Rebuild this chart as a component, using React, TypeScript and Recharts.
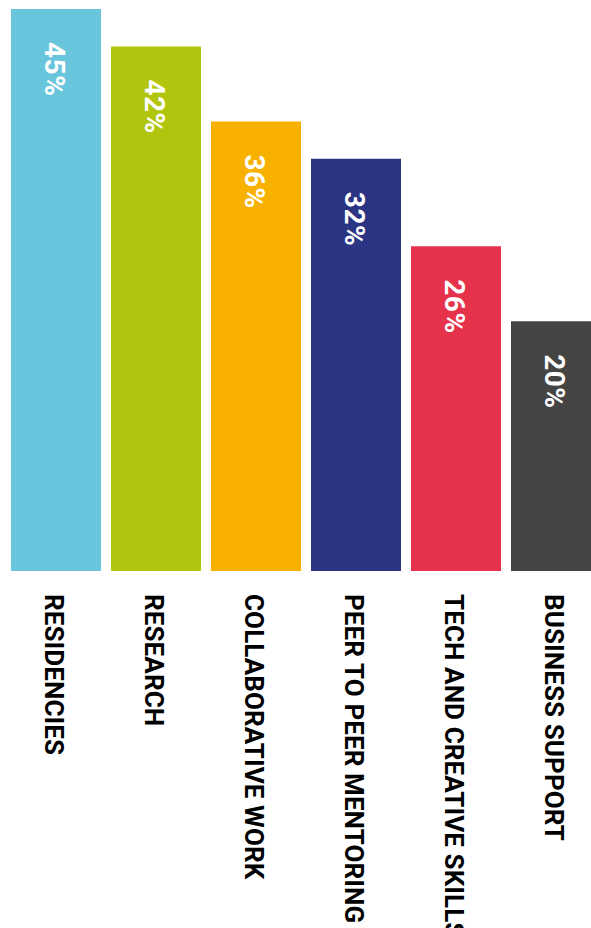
import { BarChart, Bar, XAxis, YAxis, Cell, LabelList } from "recharts";

const categories = [
  "RESIDENCIES",
  "RESEARCH",
  "COLLABORATIVE WORK",
  "PEER TO PEER MENTORING",
  "TECH AND CREATIVE SKILLS",
  "BUSINESS SUPPORT",
];
// bar heights as drawn in the picture
const values = [45, 42, 36, 33, 26, 20];
// printed value labels
const valueLabels = ["45%", "42%", "36%", "32%", "26%", "20%"];
const colors = ["#69C5DB", "#B2C50E", "#F8B100", "#2C3583", "#E6324B", "#444443"];

const data = categories.map((name, i) => ({ name, value: values[i] }));

const FONT = "Roboto, 'DejaVu Sans', sans-serif";

// eslint-disable-next-line @typescript-eslint/no-explicit-any
function CategoryTick(props: any) {
  const { x, y, payload } = props;
  const tx = x - 11;
  const ty = y + 23;
  return (
    <text
      x={tx}
      y={ty}
      transform={`rotate(90, ${tx}, ${ty})`}
      textAnchor="start"
      fill="#000"
      fontFamily={FONT}
      fontWeight={700}
      fontSize={26}
      letterSpacing={0.1}
    >
      {payload.value}
    </text>
  );
}

// eslint-disable-next-line @typescript-eslint/no-explicit-any
function ValueLabel(props: any) {
  const { x, y, width, index } = props;
  const tx = x + width / 2 - 11;
  const ty = y + 33;
  return (
    <text
      x={tx}
      y={ty}
      transform={`rotate(90, ${tx}, ${ty})`}
      textAnchor="start"
      fill="#fff"
      fontFamily={FONT}
      fontWeight={700}
      fontSize={28}
      letterSpacing={0.5}
    >
      {valueLabels[index]}
    </text>
  );
}

export default function App() {
  return (
    <div
      style={{
        position: "absolute",
        left: 0,
        top: 0,
        width: 591,
        height: 928,
        overflow: "hidden",
        background: "#fff",
      }}
    >
      <BarChart
        width={606}
        height={928}
        data={data}
        margin={{ top: 9, right: 0, bottom: 0, left: 6 }}
        barCategoryGap={5}
      >
        <XAxis
          dataKey="name"
          axisLine={false}
          tickLine={false}
          tickSize={0}
          tickMargin={0}
          interval={0}
          height={357}
          tick={<CategoryTick />}
        />
        <YAxis hide domain={[0, 45]} />
        <Bar dataKey="value" isAnimationActive={false}>
          {data.map((d, i) => (
            <Cell key={d.name} fill={colors[i]} />
          ))}
          <LabelList dataKey="value" content={<ValueLabel />} />
        </Bar>
      </BarChart>
    </div>
  );
}
